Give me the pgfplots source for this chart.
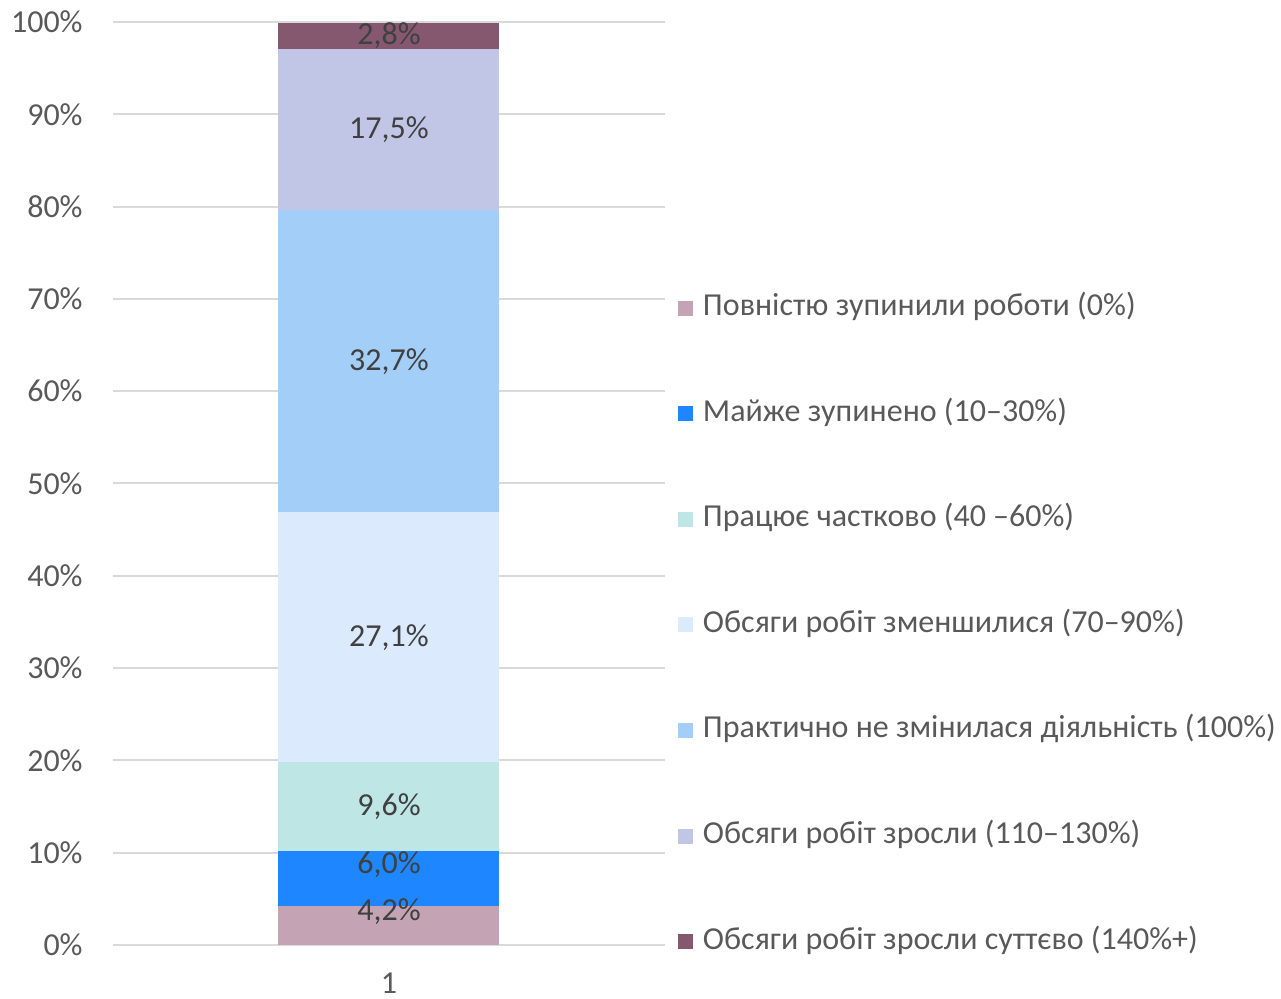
\documentclass[border=0pt]{standalone}
\usepackage{pgfplots}
\pgfplotsset{compat=1.18}
\usepackage{fontspec}
\setmainfont{Carlito}

\definecolor{cA}{HTML}{C4A4B4}
\definecolor{cB}{HTML}{1E86FF}
\definecolor{cC}{HTML}{BDE6E4}
\definecolor{cD}{HTML}{DCEAFD}
\definecolor{cE}{HTML}{A3CEF7}
\definecolor{cF}{HTML}{C1C6E6}
\definecolor{cG}{HTML}{85586F}
\definecolor{gridc}{HTML}{D9D9D9}
\definecolor{textc}{HTML}{595959}
\definecolor{labc}{HTML}{404040}

\newcommand{\chartfont}{\fontsize{16pt}{19pt}\selectfont}

\begin{document}
\begin{tikzpicture}
\begin{axis}[
  scale only axis,
  width=276pt, height=461.5pt,
  xmin=0, xmax=2, ymin=0, ymax=100,
  ybar stacked, bar width=110.5pt,
  axis line style={draw=none},
  major tick length=0pt,
  ymajorgrids, grid style={draw=gridc, line width=1pt},
  xtick={1}, xticklabels={1},
  ytick={0,10,...,100},
  yticklabels={0\%,10\%,20\%,30\%,40\%,50\%,60\%,70\%,80\%,90\%,100\%},
  tick label style={font=\chartfont, text=textc, inner sep=0pt},
  yticklabel style={xshift=-15pt},
  xticklabel style={yshift=-14pt},
  /pgf/number format/assume math mode=true,
  visualization depends on=rawy \as \rawy,
  nodes near coords={\pgfmathprintnumber[fixed,fixed zerofill,precision=1,use comma]{\rawy}\%},
  every node near coord/.append style={anchor=center, font=\chartfont, text=labc},
  legend style={at={(1.02355,0.7064)}, anchor=north west,
    draw=none, fill=none, inner sep=0pt, outer sep=0pt,
    row sep=37.5pt, font=\chartfont, text=textc,
    nodes={inner sep=0pt, text height=11.3pt, text depth=4pt},
    cells={anchor=west},
    /tikz/every odd column/.append style={column sep=5pt}},
  legend image code/.code={\fill[#1] (0pt,-3.65pt) rectangle (7.5pt,3.85pt);},
]
\addplot[fill=cA, draw=none, every node near coord/.append style={yshift=7pt}] coordinates {(1,4.2)};
\addplot[fill=cB, draw=none, every node near coord/.append style={yshift=7pt}] coordinates {(1,6.0)};
\addplot[fill=cC, draw=none] coordinates {(1,9.6)};
\addplot[fill=cD, draw=none] coordinates {(1,27.1)};
\addplot[fill=cE, draw=none] coordinates {(1,32.7)};
\addplot[fill=cF, draw=none] coordinates {(1,17.5)};
\addplot[fill=cG, draw=none] coordinates {(1,2.8)};
\legend{Повністю зупинили роботи (0\%),
  Майже зупинено (10–30\%),
  Працює частково (40 –60\%),
  Обсяги робіт зменшилися (70–90\%),
  Практично не змінилася діяльність (100\%),
  Обсяги робіт зросли (110–130\%),
  Обсяги робіт зросли суттєво (140\%+)}
\coordinate (o) at (rel axis cs:0,0);
\end{axis}
\pgfresetboundingbox
\path (o) ++(-56.5pt,-27pt) rectangle ++(640.5pt,499.5pt);
\end{tikzpicture}
\end{document}
